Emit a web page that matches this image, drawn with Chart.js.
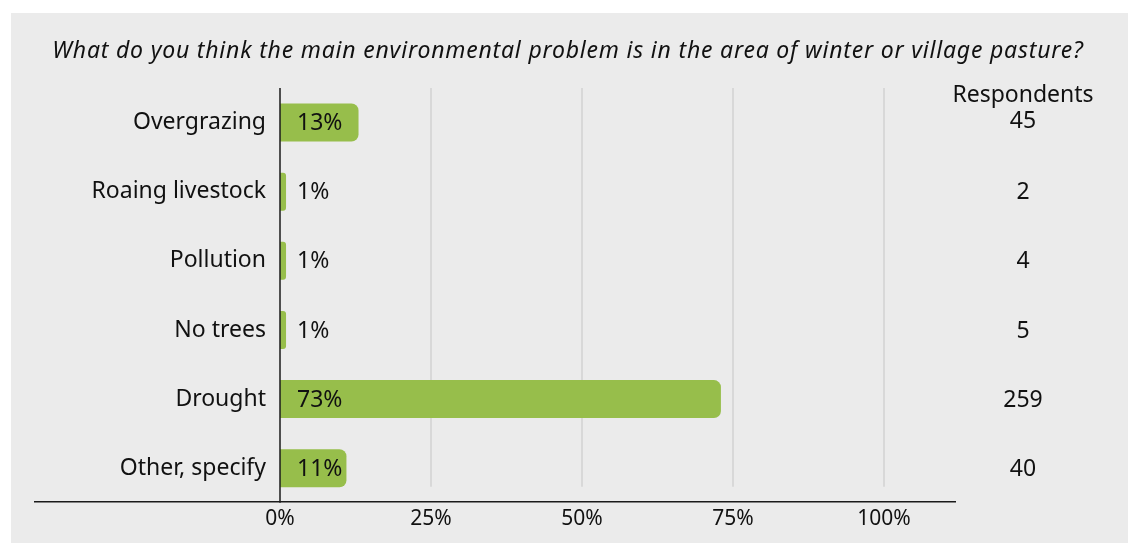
<!DOCTYPE html>
<html>
<head>
<meta charset="utf-8">
<script src="https://cdn.jsdelivr.net/npm/chart.js@4"></script>
<style>
    html, body { margin: 0; padding: 0; background: #ffffff; }
    #panel { position: absolute; left: 11px; top: 13px; width: 1117px; height: 530px; background: #ebebeb; }
    #wrap { position: absolute; left: 0; top: 0; width: 1128px; height: 546px; }
</style>
</head>
<body>
<div id="panel"></div>
<div id="wrap"><canvas id="chart"></canvas></div>
<script>
const categories = ['Overgrazing', 'Roaing livestock', 'Pollution', 'No trees', 'Drought', 'Other, specify'];
const shares = [13, 1, 1, 1, 73, 11];
const respondents = [45, 2, 4, 5, 259, 40];
const xTicks = [0, 25, 50, 75, 100];
const titleText = 'What do you think the main environmental problem is in the area of winter or village pasture?';

const FONT = '"Noto Sans", Lato, sans-serif';

// title, gridlines, axis lines, value labels and the respondents column
const extras = {
    id: 'extras',
    beforeDatasetsDraw(chart) {
        const { ctx, chartArea, scales: { x } } = chart;
        ctx.save();
        ctx.fillStyle = '#111';
        ctx.font = 'italic 23px ' + FONT;
        ctx.letterSpacing = '0.8px';
        ctx.textAlign = 'center';
        ctx.textBaseline = 'middle';
        ctx.fillText(titleText, 568, 51);
        ctx.letterSpacing = '0px';

        ctx.strokeStyle = '#d8d8d8';
        ctx.lineWidth = 2;
        xTicks.slice(1).forEach(v => {
            const px = Math.round(x.getPixelForValue(v));
            ctx.beginPath();
            ctx.moveTo(px, chartArea.top);
            ctx.lineTo(px, chartArea.bottom - 16);
            ctx.stroke();
        });
        ctx.restore();
    },
    afterDatasetsDraw(chart) {
        const { ctx, chartArea, scales: { x, y } } = chart;
        ctx.save();
        // axis lines
        ctx.strokeStyle = '#1a1a1a';
        ctx.lineWidth = 1.5;
        ctx.beginPath();
        ctx.moveTo(x.getPixelForValue(0), chartArea.top);
        ctx.lineTo(x.getPixelForValue(0), chartArea.bottom);
        ctx.stroke();
        ctx.beginPath();
        ctx.moveTo(34, chartArea.bottom - 1);
        ctx.lineTo(956, chartArea.bottom - 1);
        ctx.stroke();

        // value labels
        ctx.fillStyle = '#111';
        ctx.font = '23px ' + FONT;
        ctx.textBaseline = 'middle';
        ctx.textAlign = 'left';
        shares.forEach((v, i) => {
            ctx.fillText(v + '%', x.getPixelForValue(0) + 17, y.getPixelForValue(i) + 1);
        });

        // respondents column
        ctx.textAlign = 'center';
        ctx.fillText('Respondents', 1023, 95);
        respondents.forEach((n, i) => {
            const py = i === 0 ? y.getPixelForValue(i) - 1 : y.getPixelForValue(i) + 1;
            ctx.fillText(String(n), 1023, py);
        });
        ctx.restore();
    }
};

new Chart(document.getElementById('chart'), {
    type: 'bar',
    data: {
        labels: categories,
        datasets: [{
            data: shares,
            backgroundColor: '#97be4b',
            borderRadius: 7,
            borderSkipped: 'start',
            categoryPercentage: 1,
            barPercentage: 0.55
        }]
    },
    options: {
        indexAxis: 'y',
        responsive: true,
        maintainAspectRatio: false,
        animation: false,
        layout: { padding: { left: 0, right: 244, top: 88, bottom: 10 } },
        plugins: {
            legend: { display: false },
            tooltip: { enabled: false },
            title: { display: false }
        },
        scales: {
            x: {
                min: 0,
                max: 100,
                afterBuildTicks: scale => { scale.ticks = xTicks.map(v => ({ value: v })); },
                grid: { display: false, drawTicks: false },
                border: { display: false },
                ticks: {
                    padding: 4,
                    color: '#111',
                    font: { family: FONT, size: 21 },
                    callback: v => v + '%'
                }
            },
            y: {
                afterFit: scale => { scale.width = 280; },
                grid: { display: false, drawTicks: false },
                border: { display: false },
                ticks: {
                    padding: 14,
                    color: '#111',
                    font: { family: FONT, size: 23 }
                }
            }
        }
    },
    plugins: [extras]
});
</script>
</body>
</html>
